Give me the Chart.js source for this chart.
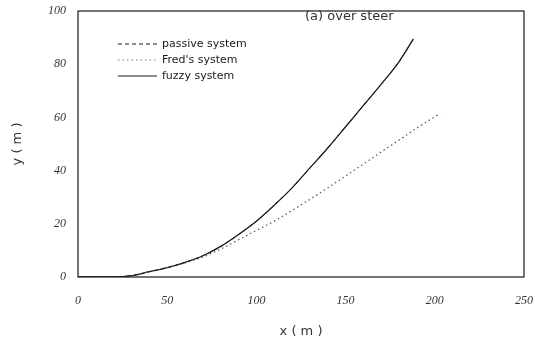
<!DOCTYPE html>
<html>
<head>
<meta charset="utf-8">
<script src="https://cdn.jsdelivr.net/npm/chart.js@4.4.1/dist/chart.umd.min.js"></script>
<style>
  html, body { margin: 0; padding: 0; background: #fff; }
  #wrap { width: 535px; height: 351px; position: relative; }
</style>
</head>
<body>
<div id="wrap"><canvas id="chart"></canvas></div>
<script>
// trajectory samples, x (m) / y (m)
const fuzzyX = [0, 20, 30, 40, 50, 60, 70, 80, 90, 100, 110, 120, 130, 140, 150, 160, 170, 180, 188];
const fuzzyY = [0, 0, 0.5, 2, 3.5, 5.5, 8, 11.5, 16, 21, 27, 33.5, 41, 48.5, 56.5, 64.5, 72.5, 81, 89.5];
const fredX = [0, 20, 30, 40, 50, 60, 70, 80, 90, 100, 110, 120, 130, 140, 150, 160, 170, 180, 190, 203];
const fredY = [0, 0, 0.5, 2, 3.5, 5.3, 7.5, 10.5, 14, 17.5, 21, 25, 29.2, 33.5, 38, 42.5, 47, 51.5, 56, 61.5];
// passive run follows the fuzzy path in this case
const passiveX = fuzzyX;
const passiveY = fuzzyY;

const xTicks = [0, 50, 100, 150, 200, 250];
const yTicks = [0, 20, 40, 60, 80, 100];

const seriesNames = ["passive system", "Fred's system", "fuzzy system"];
const plotTitle = "(a) over steer";

const pts = (xs, ys) => xs.map((x, i) => ({ x: x, y: ys[i] }));

const ink = "#1a1a1a";
const dashes = [[4, 3], [1.5, 3], []];

// frame + legend + caption drawn over the plot area
const frameAndLegend = {
  id: "frameAndLegend",
  afterDraw(chart) {
    const { ctx, chartArea: a } = chart;
    ctx.save();
    ctx.strokeStyle = ink;
    ctx.lineWidth = 1.2;
    ctx.setLineDash([]);
    ctx.strokeRect(a.left, a.top, a.right - a.left, a.bottom - a.top);

    ctx.font = "11px 'DejaVu Sans'";
    ctx.fillStyle = ink;
    ctx.textBaseline = "middle";
    seriesNames.forEach((name, i) => {
      const y = a.top + 33 + i * 16;
      ctx.beginPath();
      ctx.setLineDash(dashes[i]);
      ctx.lineWidth = i === 2 ? 1.2 : 1;
      ctx.strokeStyle = i === 1 ? "#777" : ink;
      ctx.moveTo(a.left + 40, y);
      ctx.lineTo(a.left + 79, y);
      ctx.stroke();
      ctx.fillText(name, a.left + 84, y);
    });

    ctx.setLineDash([]);
    ctx.font = "13px 'DejaVu Sans'";
    ctx.fillStyle = "#333";
    ctx.textAlign = "left";
    ctx.fillText(plotTitle, a.left + 227, a.top + 6);
    ctx.restore();
  }
};

const lineStyle = { showLine: true, pointRadius: 0, cubicInterpolationMode: "monotone" };

new Chart(document.getElementById("chart"), {
  type: "scatter",
  data: {
    datasets: [
      Object.assign({
        label: seriesNames[0],
        data: pts(passiveX, passiveY),
        borderColor: ink,
        borderWidth: 1,
        borderDash: dashes[0]
      }, lineStyle),
      Object.assign({
        label: seriesNames[1],
        data: pts(fredX, fredY),
        borderColor: "#555",
        borderWidth: 1.2,
        borderDash: dashes[1]
      }, lineStyle),
      Object.assign({
        label: seriesNames[2],
        data: pts(fuzzyX, fuzzyY),
        borderColor: ink,
        borderWidth: 1.3
      }, lineStyle)
    ]
  },
  options: {
    responsive: true,
    maintainAspectRatio: false,
    animation: false,
    layout: { padding: { top: 11, right: 11, left: 0, bottom: 0 } },
    plugins: {
      legend: { display: false },
      tooltip: { enabled: false }
    },
    scales: {
      x: {
        type: "linear",
        min: 0,
        max: 250,
        afterBuildTicks: s => { s.ticks = xTicks.map(v => ({ value: v })); },
        afterFit: s => { s.height = 74; s.paddingLeft = 0; s.paddingRight = 0; },
        grid: { display: false, drawTicks: false },
        border: { display: false },
        ticks: {
          color: "#333",
          padding: 17,
          maxRotation: 0,
          font: { family: "'Liberation Serif'", style: "italic", size: 12 }
        },
        title: {
          display: true,
          text: "x ( m )",
          color: "#333",
          padding: { top: 0, bottom: 12 },
          font: { family: "'DejaVu Sans'", size: 13 }
        }
      },
      y: {
        type: "linear",
        min: 0,
        max: 100,
        afterBuildTicks: s => { s.ticks = yTicks.map(v => ({ value: v })); },
        afterFit: s => { s.width = 78; s.paddingTop = 0; s.paddingBottom = 0; },
        grid: { display: false, drawTicks: false },
        border: { display: false },
        ticks: {
          color: "#333",
          padding: 12,
          font: { family: "'Liberation Serif'", style: "italic", size: 12 }
        },
        title: {
          display: true,
          text: "y ( m )",
          color: "#333",
          padding: { top: 10, bottom: 0 },
          font: { family: "'DejaVu Sans'", size: 13 }
        }
      }
    }
  },
  plugins: [frameAndLegend]
});
</script>
</body>
</html>
